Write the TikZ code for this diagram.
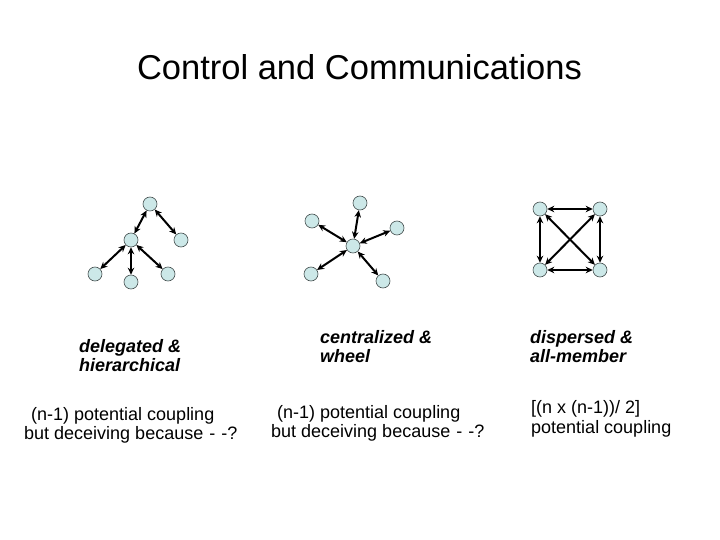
\documentclass[tikz,border=0pt]{standalone}
\usepackage{fontspec}
\setmainfont{Liberation Sans}
\usepackage{tikz}
\usetikzlibrary{arrows.meta}
\definecolor{nodefill}{RGB}{204,232,232}
\definecolor{nodeline}{RGB}{70,80,80}

\begin{document}
\begin{tikzpicture}[x=1pt,y=-1pt,
  member/.style={circle,draw=nodeline,fill=nodefill,line width=0.6pt,minimum size=14pt,inner sep=0pt},
  link/.style={{Stealth[length=7pt,width=6.5pt]}-{Stealth[length=7pt,width=6.5pt]},line width=2pt,black},
  kind/.style={anchor=north west,align=left,inner sep=0pt,font=\fontsize{18}{19.5}\selectfont\bfseries\itshape},
  note/.style={anchor=north west,align=left,inner sep=0pt,font=\fontsize{18}{19.5}\selectfont}]
\useasboundingbox (0,0) rectangle (720,540);
\node[anchor=base,inner sep=0pt,font=\fontsize{34.5}{40}\selectfont] (title) at (359.5,80) {Control and Communications};
\node[member] (t0) at (150,204) {};
\node[member] (t1) at (131,240) {};
\node[member] (t2) at (181,240) {};
\node[member] (t3) at (95,274) {};
\node[member] (t4) at (131,282) {};
\node[member] (t5) at (168,274) {};
\draw[link] (t0) -- (t1);
\draw[link] (t0) -- (t2);
\draw[link] (t1) -- (t3);
\draw[link] (t1) -- (t4);
\draw[link] (t1) -- (t5);
\node[member] (wc) at (353,246) {};
\node[member] (w1) at (360,203) {};
\node[member] (w2) at (312,221) {};
\node[member] (w3) at (397,228) {};
\node[member] (w4) at (311,274) {};
\node[member] (w5) at (383,281) {};
\foreach \w in {w1,w2,w3,w4,w5}
  \draw[link] (wc) -- (\w);
\node[member] (s1) at (540,209) {};
\node[member] (s2) at (600,209) {};
\node[member] (s3) at (540,270) {};
\node[member] (s4) at (600,270) {};
\draw[link] (s1) -- (s2);
\draw[link] (s3) -- (s4);
\draw[link] (s1) -- (s3);
\draw[link] (s2) -- (s4);
\draw[link] (s1) -- (s4);
\draw[link] (s2) -- (s3);
\node[kind] (k1) at (79,339) {delegated \&\\hierarchical};
\node[kind] (k2) at (320,330) {centralized \&\\wheel};
\node[kind] (k3) at (530,330) {dispersed \&\\all-member};
\node[note] (n1) at (24,407) {\hspace*{7pt}(n-1) potential coupling\\but deceiving because\hspace{6pt}-\hspace{6pt}-?};
\node[note] (n2) at (271,405) {\hspace*{6pt}(n-1) potential coupling\\but deceiving because\hspace{6pt}-\hspace{6pt}-?};
\node[note] (n3) at (531,400.5) {[(n x (n-1))/ 2]\\potential coupling};
\end{tikzpicture}
\end{document}
